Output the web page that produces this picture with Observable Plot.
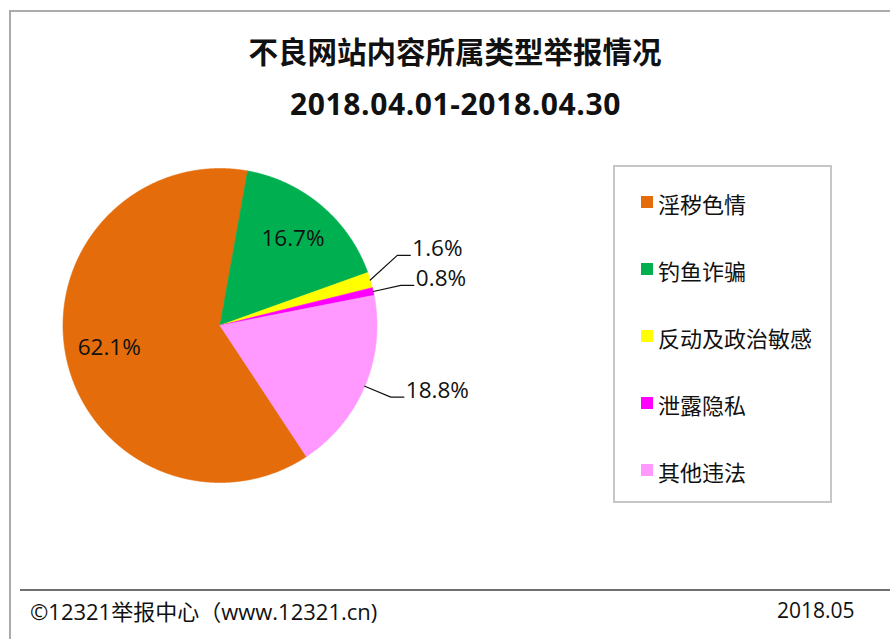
<!DOCTYPE html>
<html>
<head>
<meta charset="utf-8">
<script src="https://cdn.jsdelivr.net/npm/d3@7"></script>
<script src="https://cdn.jsdelivr.net/npm/@observablehq/plot@0.6"></script>
<style>
html, body { margin: 0; padding: 0; background: #fff; }
body { width: 890px; height: 639px; overflow: hidden; position: relative;
  font-family: "Open Sans", "Noto Sans CJK SC", sans-serif; color: #111; }
#frame { position: absolute; left: 9px; top: 10px; width: 920px; height: 720px;
  border: 2px solid #ababab; box-sizing: border-box; }
#title { position: absolute; left: 0; width: 910px; top: 37px; text-align: center;
  font-size: 29.5px; line-height: 1; font-weight: bold; color: #111; white-space: nowrap; }
#subtitle { position: absolute; left: 0; width: 911px; top: 89px; text-align: center;
  font-size: 30px; line-height: 1; font-weight: bold; color: #111; white-space: nowrap; letter-spacing: 0.6px; }
#chart { position: absolute; left: 0; top: 0; }
#legend { position: absolute; left: 613px; top: 165px; width: 219px; height: 338px;
  border: 2px solid #c6c6c6; box-sizing: border-box; }
.item { position: absolute; left: 0; height: 30px; line-height: 30px; white-space: nowrap;
  font-family: "Noto Sans CJK SC", sans-serif; font-size: 22px; color: #111; }
.sw { position: absolute; width: 12px; height: 12px; left: 26px; top: 8px; }
.lab { position: absolute; left: 43px; top: 0; }
#rule { position: absolute; left: 20px; top: 589px; width: 900px; height: 2px; background: #707070; }
#source { position: absolute; left: 30px; top: 600px; font-size: 22px; line-height: 1; white-space: nowrap; color: #111; }
#date { position: absolute; left: 777px; top: 600px; font-size: 21px; line-height: 1; white-space: nowrap; color: #111; }
</style>
</head>
<body>
<div id="frame"></div>
<div id="title">不良网站内容所属类型举报情况</div>
<div id="subtitle">2018.04.01-2018.04.30</div>
<div id="legend"></div>
<div id="rule"></div>
<div id="source">©12321举报中心（www.12321.cn)</div>
<div id="date">2018.05</div>
<div id="chart"></div>
<script>
// ---- data ----
const categories = ["淫秽色情", "钓鱼诈骗", "反动及政治敏感", "泄露隐私", "其他违法"];
const shares = [62.1, 16.7, 1.6, 0.8, 18.8];
const colors = ["#E46C0A", "#00B050", "#FFFF00", "#FF00FF", "#FF99FF"];
const labelOutside = [false, false, true, true, true];
const firstSliceAngle = 146.6; // degrees clockwise from 12 o'clock

// ---- geometry from data ----
const W = 890, H = 639, cx = 219.5, cy = 325, R = 157;
const toRad = Math.PI / 180;
const rows = categories.map((name, i) => ({name, share: shares[i], outside: labelOutside[i]}));
const a0 = firstSliceAngle * toRad;
const arcs = d3.pie().sort(null).value(d => d.share).startAngle(a0).endAngle(a0 + 2 * Math.PI)(rows);

const slicePts = [];
for (const a of arcs) {
  const n = Math.max(2, Math.ceil((a.endAngle - a.startAngle) / (0.25 * toRad)));
  slicePts.push({name: a.data.name, x: 0, y: 0});
  for (let k = 0; k <= n; k++) {
    const t = a.startAngle + (a.endAngle - a.startAngle) * k / n;
    slicePts.push({name: a.data.name, x: Math.sin(t), y: Math.cos(t)});
  }
  slicePts.push({name: a.data.name, x: 0, y: 0});
}

const fmt = v => v.toFixed(1) + "%";
const insideLabels = [], outsideLabels = [];
for (const a of arcs) {
  const m = (a.startAngle + a.endAngle) / 2;
  if (!a.data.outside) {
    insideLabels.push({text: fmt(a.data.share), x: 0.72 * Math.sin(m), y: 0.72 * Math.cos(m)});
  } else {
    outsideLabels.push({name: a.data.name, text: fmt(a.data.share), m,
      ex: 1.18 * Math.sin(m), ey: 1.18 * Math.cos(m)});
  }
}
// vertical dodge of outside labels (push upper ones up)
const gap = 30 / R;
outsideLabels.sort((p, q) => p.ey - q.ey);
for (let i = 1; i < outsideLabels.length; i++) {
  if (outsideLabels[i].ey < outsideLabels[i - 1].ey + gap) outsideLabels[i].ey = outsideLabels[i - 1].ey + gap;
}
const leaderPts = [];
for (const l of outsideLabels) {
  leaderPts.push({name: l.name, x: Math.sin(l.m), y: Math.cos(l.m)});
  leaderPts.push({name: l.name, x: l.ex, y: l.ey});
  leaderPts.push({name: l.name, x: l.ex + 13 / R, y: l.ey});
  l.tx = l.ex + 15 / R;
}

const chart = Plot.plot({
  width: W, height: H,
  marginLeft: cx - R, marginRight: W - (cx + R), marginTop: cy - R, marginBottom: H - (cy + R),
  x: {domain: [-1, 1], axis: null},
  y: {domain: [-1, 1], axis: null},
  color: {domain: categories, range: colors},
  style: {background: "transparent", overflow: "visible", fontFamily: "'Open Sans', 'Noto Sans CJK SC', sans-serif"},
  marks: [
    Plot.line(slicePts, {x: "x", y: "y", z: "name", fill: "name", stroke: "name", strokeWidth: 0.6, curve: "linear"}),
    Plot.line(leaderPts, {x: "x", y: "y", z: "name", stroke: "#111", strokeWidth: 1.2, curve: "linear"}),
    Plot.text(insideLabels, {x: "x", y: "y", text: "text", fontSize: 22.5, fill: "#111", textAnchor: "middle", lineAnchor: "middle"}),
    Plot.text(outsideLabels, {x: "tx", y: "ey", text: "text", fontSize: 22.5, fill: "#111", textAnchor: "start", lineAnchor: "bottom", dy: 1})
  ]
});
document.getElementById("chart").appendChild(chart);

// ---- legend ----
const legend = document.getElementById("legend");
categories.forEach((name, i) => {
  const row = document.createElement("div");
  row.className = "item";
  row.style.top = (203 - 165 - 2 - 15 + 67 * i) + "px";
  row.style.width = "210px";
  const sw = document.createElement("span");
  sw.className = "sw";
  sw.style.background = colors[i];
  const lab = document.createElement("span");
  lab.className = "lab";
  lab.textContent = name;
  row.appendChild(sw); row.appendChild(lab);
  legend.appendChild(row);
});
</script>
</body>
</html>
